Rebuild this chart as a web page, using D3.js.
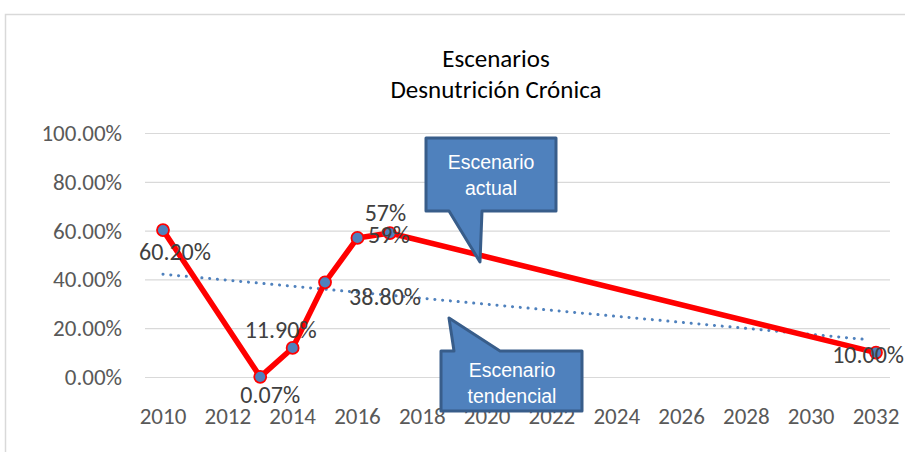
<!DOCTYPE html>
<html><head><meta charset="utf-8">
<script src="https://cdn.jsdelivr.net/npm/d3@7"></script>
<style>html,body{margin:0;padding:0;background:#fff;}svg{display:block;}</style>
</head><body>
<svg id="c" width="905" height="452"></svg>
<script>
const years = [2010, 2013, 2014, 2015, 2016, 2017, 2032];
const values = [60.2, 0.07, 11.9, 38.8, 57, 59, 10];
const labels = ["60.20%", "0.07%", "11.90%", "38.80%", "57%", "59%", "10.00%"];
const xTicks = [2010,2012,2014,2016,2018,2020,2022,2024,2026,2028,2030,2032];
const yTicks = [0,20,40,60,80,100];
const titleLines = ["Escenarios", "Desnutrición Crónica"];
const calloutTexts = [["Escenario","actual"],["Escenario","tendencial"]];

const font = "Carlito, Calibri, Lato, sans-serif";
const svg = d3.select("#c");
const x = d3.scaleLinear().domain([2010, 2032]).range([163, 876]);
const y = d3.scaleLinear().domain([0, 100]).range([377, 133]);
const gridL = 145, gridR = 890;

// chart border
svg.append("path").attr("d","M5.5,452 V14.5 H905").attr("fill","none").attr("stroke","#d9d9d9").attr("stroke-width",1.5);

// title
svg.append("text").attr("text-anchor","middle")
  .attr("font-family",font).attr("font-size",25).attr("fill","#000")
  .selectAll("tspan").data(titleLines).join("tspan")
  .attr("x",496).attr("y",(d,i)=>67+i*31).text(d=>d);

// gridlines
svg.append("g").selectAll("line").data(yTicks).join("line")
  .attr("x1",gridL).attr("x2",gridR).attr("y1",d=>y(d)+0.5).attr("y2",d=>y(d)+0.5)
  .attr("stroke","#d9d9d9").attr("stroke-width",1.2);

// y labels
svg.append("g").selectAll("text").data(yTicks).join("text")
  .attr("x",122).attr("y",d=>y(d)).attr("dy","0.35em").attr("text-anchor","end")
  .attr("font-family",font).attr("font-size",23).attr("fill","#595959")
  .text(d=>d3.format(".2f")(d)+"%");

// x labels
svg.append("g").selectAll("text").data(xTicks).join("text")
  .attr("x",d=>x(d)).attr("y",416).attr("dy","0.35em").attr("text-anchor","middle")
  .attr("font-family",font).attr("font-size",23).attr("fill","#595959")
  .text(d=>d);

// trend line (linear regression of the series)
const mx = d3.mean(years), my = d3.mean(values);
const slope = d3.sum(years.map((v,i)=>(v-mx)*(values[i]-my))) / d3.sum(years.map(v=>(v-mx)**2));
const icpt = my - slope*mx;
const tEnd = x.invert(x(2032)-8);
svg.append("line")
  .attr("x1",x(2010)).attr("y1",y(icpt+slope*2010))
  .attr("x2",x(tEnd)).attr("y2",y(icpt+slope*tEnd))
  .attr("stroke","#4f81bd").attr("stroke-width",3).attr("stroke-dasharray","0.1 7.7").attr("stroke-linecap","round");

// series line
const line = d3.line().x((d,i)=>x(years[i])).y(d=>y(d));
svg.append("path").datum(values).attr("d",line).attr("fill","none")
  .attr("stroke","#ff0000").attr("stroke-width",5.5).attr("stroke-linejoin","round");

// markers
svg.append("g").selectAll("circle").data(values).join("circle")
  .attr("cx",(d,i)=>x(years[i])).attr("cy",d=>y(d)).attr("r",6)
  .attr("fill","#4f81bd").attr("stroke","#ff0000").attr("stroke-width",1.8);

// data labels (offsets from point)
const offs = [[12,21],[10,18],[-12,-18],[60,14],[28,-25],[-1,2],[0,2]];
const anchors = ["middle","middle","middle","middle","middle","middle","end"];
svg.append("g").selectAll("text").data(values).join("text")
  .attr("x",(d,i)=> i===6 ? 904 : x(years[i])+offs[i][0])
  .attr("y",(d,i)=>y(d)+offs[i][1]).attr("dy","0.35em")
  .attr("text-anchor",(d,i)=>anchors[i]).attr("font-family",font).attr("font-size",24).attr("fill","#404040")
  .text((d,i)=>labels[i]);

// callouts
function callout(pathD, tx, ty, lines){
  svg.append("path").attr("d",pathD).attr("fill","#4f81bd").attr("stroke","#385d8a").attr("stroke-width",3).attr("stroke-linejoin","round");
  svg.append("text").attr("text-anchor","middle").attr("font-family","Liberation Sans, Arial, sans-serif")
    .attr("font-size",19.5).attr("fill","#fff")
    .selectAll("tspan").data(lines).join("tspan").attr("x",tx).attr("y",(d,i)=>ty+i*26).text(d=>d);
}
callout("M426,138 H556 V211 H482 L480,262 L449,211 H426 Z", 491, 169, calloutTexts[0]);
callout("M441,351 H454 L449,318 L500,351 H582 V411 H441 Z", 512, 377, calloutTexts[1]);
</script>
</body></html>
